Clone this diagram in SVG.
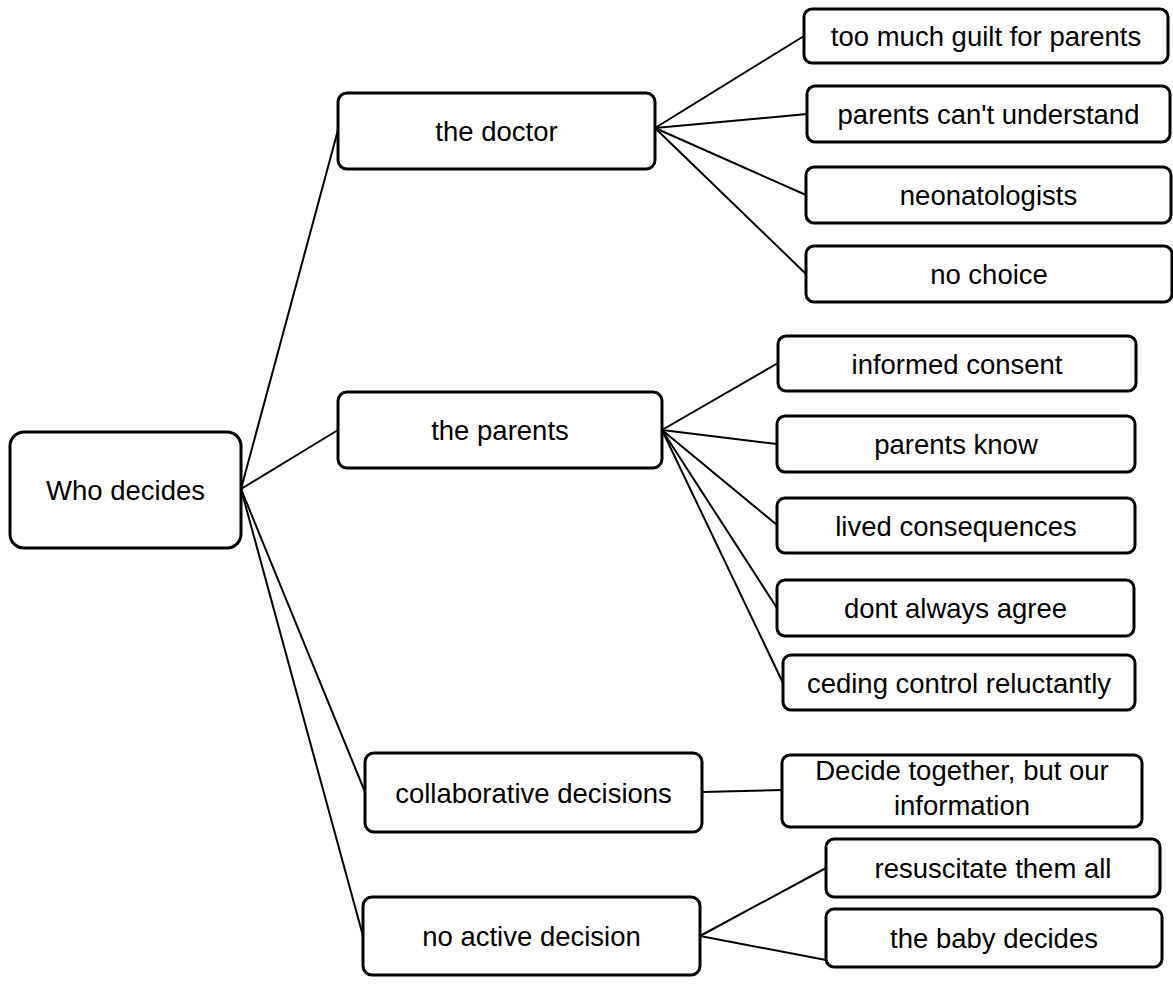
<svg xmlns="http://www.w3.org/2000/svg" width="1173" height="996" viewBox="0 0 1173 996">
  <style>
    .box { fill: #ffffff; stroke: #000000; stroke-width: 3; }
    .lbl { font-family: "Liberation Sans", Arial, sans-serif; font-size: 27.5px; fill: #000000; text-anchor: middle; }
    .wire { stroke: #000000; stroke-width: 2; fill: none; }
  </style>
  <rect width="1173" height="996" fill="#ffffff"/>

  <!-- connectors -->
  <g id="connectors" class="wire">
    <line x1="241" y1="489" x2="338" y2="130"/>
    <line x1="241" y1="489" x2="338" y2="430"/>
    <line x1="241" y1="489" x2="365" y2="792"/>
    <line x1="241" y1="489" x2="363" y2="936"/>

    <line x1="655" y1="128" x2="804" y2="36"/>
    <line x1="655" y1="128" x2="807" y2="114"/>
    <line x1="655" y1="128" x2="806" y2="195"/>
    <line x1="655" y1="128" x2="806" y2="274"/>

    <line x1="662" y1="430" x2="778" y2="363"/>
    <line x1="662" y1="430" x2="777" y2="444"/>
    <line x1="662" y1="430" x2="777" y2="525"/>
    <line x1="662" y1="430" x2="777" y2="608"/>
    <line x1="662" y1="430" x2="783" y2="683"/>

    <line x1="702" y1="792" x2="782" y2="790"/>

    <line x1="700" y1="936" x2="826" y2="868"/>
    <line x1="700" y1="936" x2="826" y2="960"/>
  </g>

  <!-- root -->
  <g id="who-decides">
    <rect class="box" x="10" y="432" width="231" height="116" rx="14"/>
    <text class="lbl" x="125.5" y="499.5">Who decides</text>
  </g>

  <!-- second level -->
  <g id="the-doctor">
    <rect class="box" x="338" y="93" width="317" height="76" rx="9"/>
    <text class="lbl" x="496.5" y="140.5">the doctor</text>
  </g>
  <g id="the-parents">
    <rect class="box" x="338" y="392" width="324" height="76" rx="9"/>
    <text class="lbl" x="500" y="439.5">the parents</text>
  </g>
  <g id="collaborative-decisions">
    <rect class="box" x="365" y="753" width="337" height="79" rx="9"/>
    <text class="lbl" x="533.5" y="802.5">collaborative decisions</text>
  </g>
  <g id="no-active-decision">
    <rect class="box" x="363" y="897" width="337" height="78" rx="9"/>
    <text class="lbl" x="531.5" y="945.5">no active decision</text>
  </g>

  <!-- leaves: the doctor -->
  <g id="too-much-guilt">
    <rect class="box" x="804" y="9" width="364" height="54" rx="8"/>
    <text class="lbl" x="986" y="45.5">too much guilt for parents</text>
  </g>
  <g id="parents-cant-understand">
    <rect class="box" x="807" y="86" width="363" height="56" rx="8"/>
    <text class="lbl" x="988.5" y="123.5">parents can't understand</text>
  </g>
  <g id="neonatologists">
    <rect class="box" x="806" y="167" width="365" height="56" rx="8"/>
    <text class="lbl" x="988.5" y="204.5">neonatologists</text>
  </g>
  <g id="no-choice">
    <rect class="box" x="806" y="246" width="366" height="56" rx="8"/>
    <text class="lbl" x="989" y="283.5">no choice</text>
  </g>

  <!-- leaves: the parents -->
  <g id="informed-consent">
    <rect class="box" x="778" y="336" width="358" height="55" rx="8"/>
    <text class="lbl" x="957" y="373.5">informed consent</text>
  </g>
  <g id="parents-know">
    <rect class="box" x="777" y="416" width="358" height="56" rx="8"/>
    <text class="lbl" x="956" y="453.5">parents know</text>
  </g>
  <g id="lived-consequences">
    <rect class="box" x="777" y="498" width="358" height="55" rx="8"/>
    <text class="lbl" x="956" y="535.5">lived consequences</text>
  </g>
  <g id="dont-always-agree">
    <rect class="box" x="777" y="580" width="357" height="56" rx="8"/>
    <text class="lbl" x="955.5" y="617.5">dont always agree</text>
  </g>
  <g id="ceding-control">
    <rect class="box" x="783" y="655" width="352" height="55" rx="8"/>
    <text class="lbl" x="959" y="692.5">ceding control reluctantly</text>
  </g>

  <!-- leaf: collaborative decisions -->
  <g id="decide-together">
    <rect class="box" x="782" y="755" width="360" height="72" rx="8"/>
    <text class="lbl" x="962" y="780">Decide together, but our</text>
    <text class="lbl" x="962" y="815">information</text>
  </g>

  <!-- leaves: no active decision -->
  <g id="resuscitate-them-all">
    <rect class="box" x="826" y="839" width="334" height="58" rx="8"/>
    <text class="lbl" x="993" y="877.5">resuscitate them all</text>
  </g>
  <g id="baby-decides">
    <rect class="box" x="826" y="909" width="336" height="58" rx="8"/>
    <text class="lbl" x="994" y="947.5">the baby decides</text>
  </g>
</svg>
